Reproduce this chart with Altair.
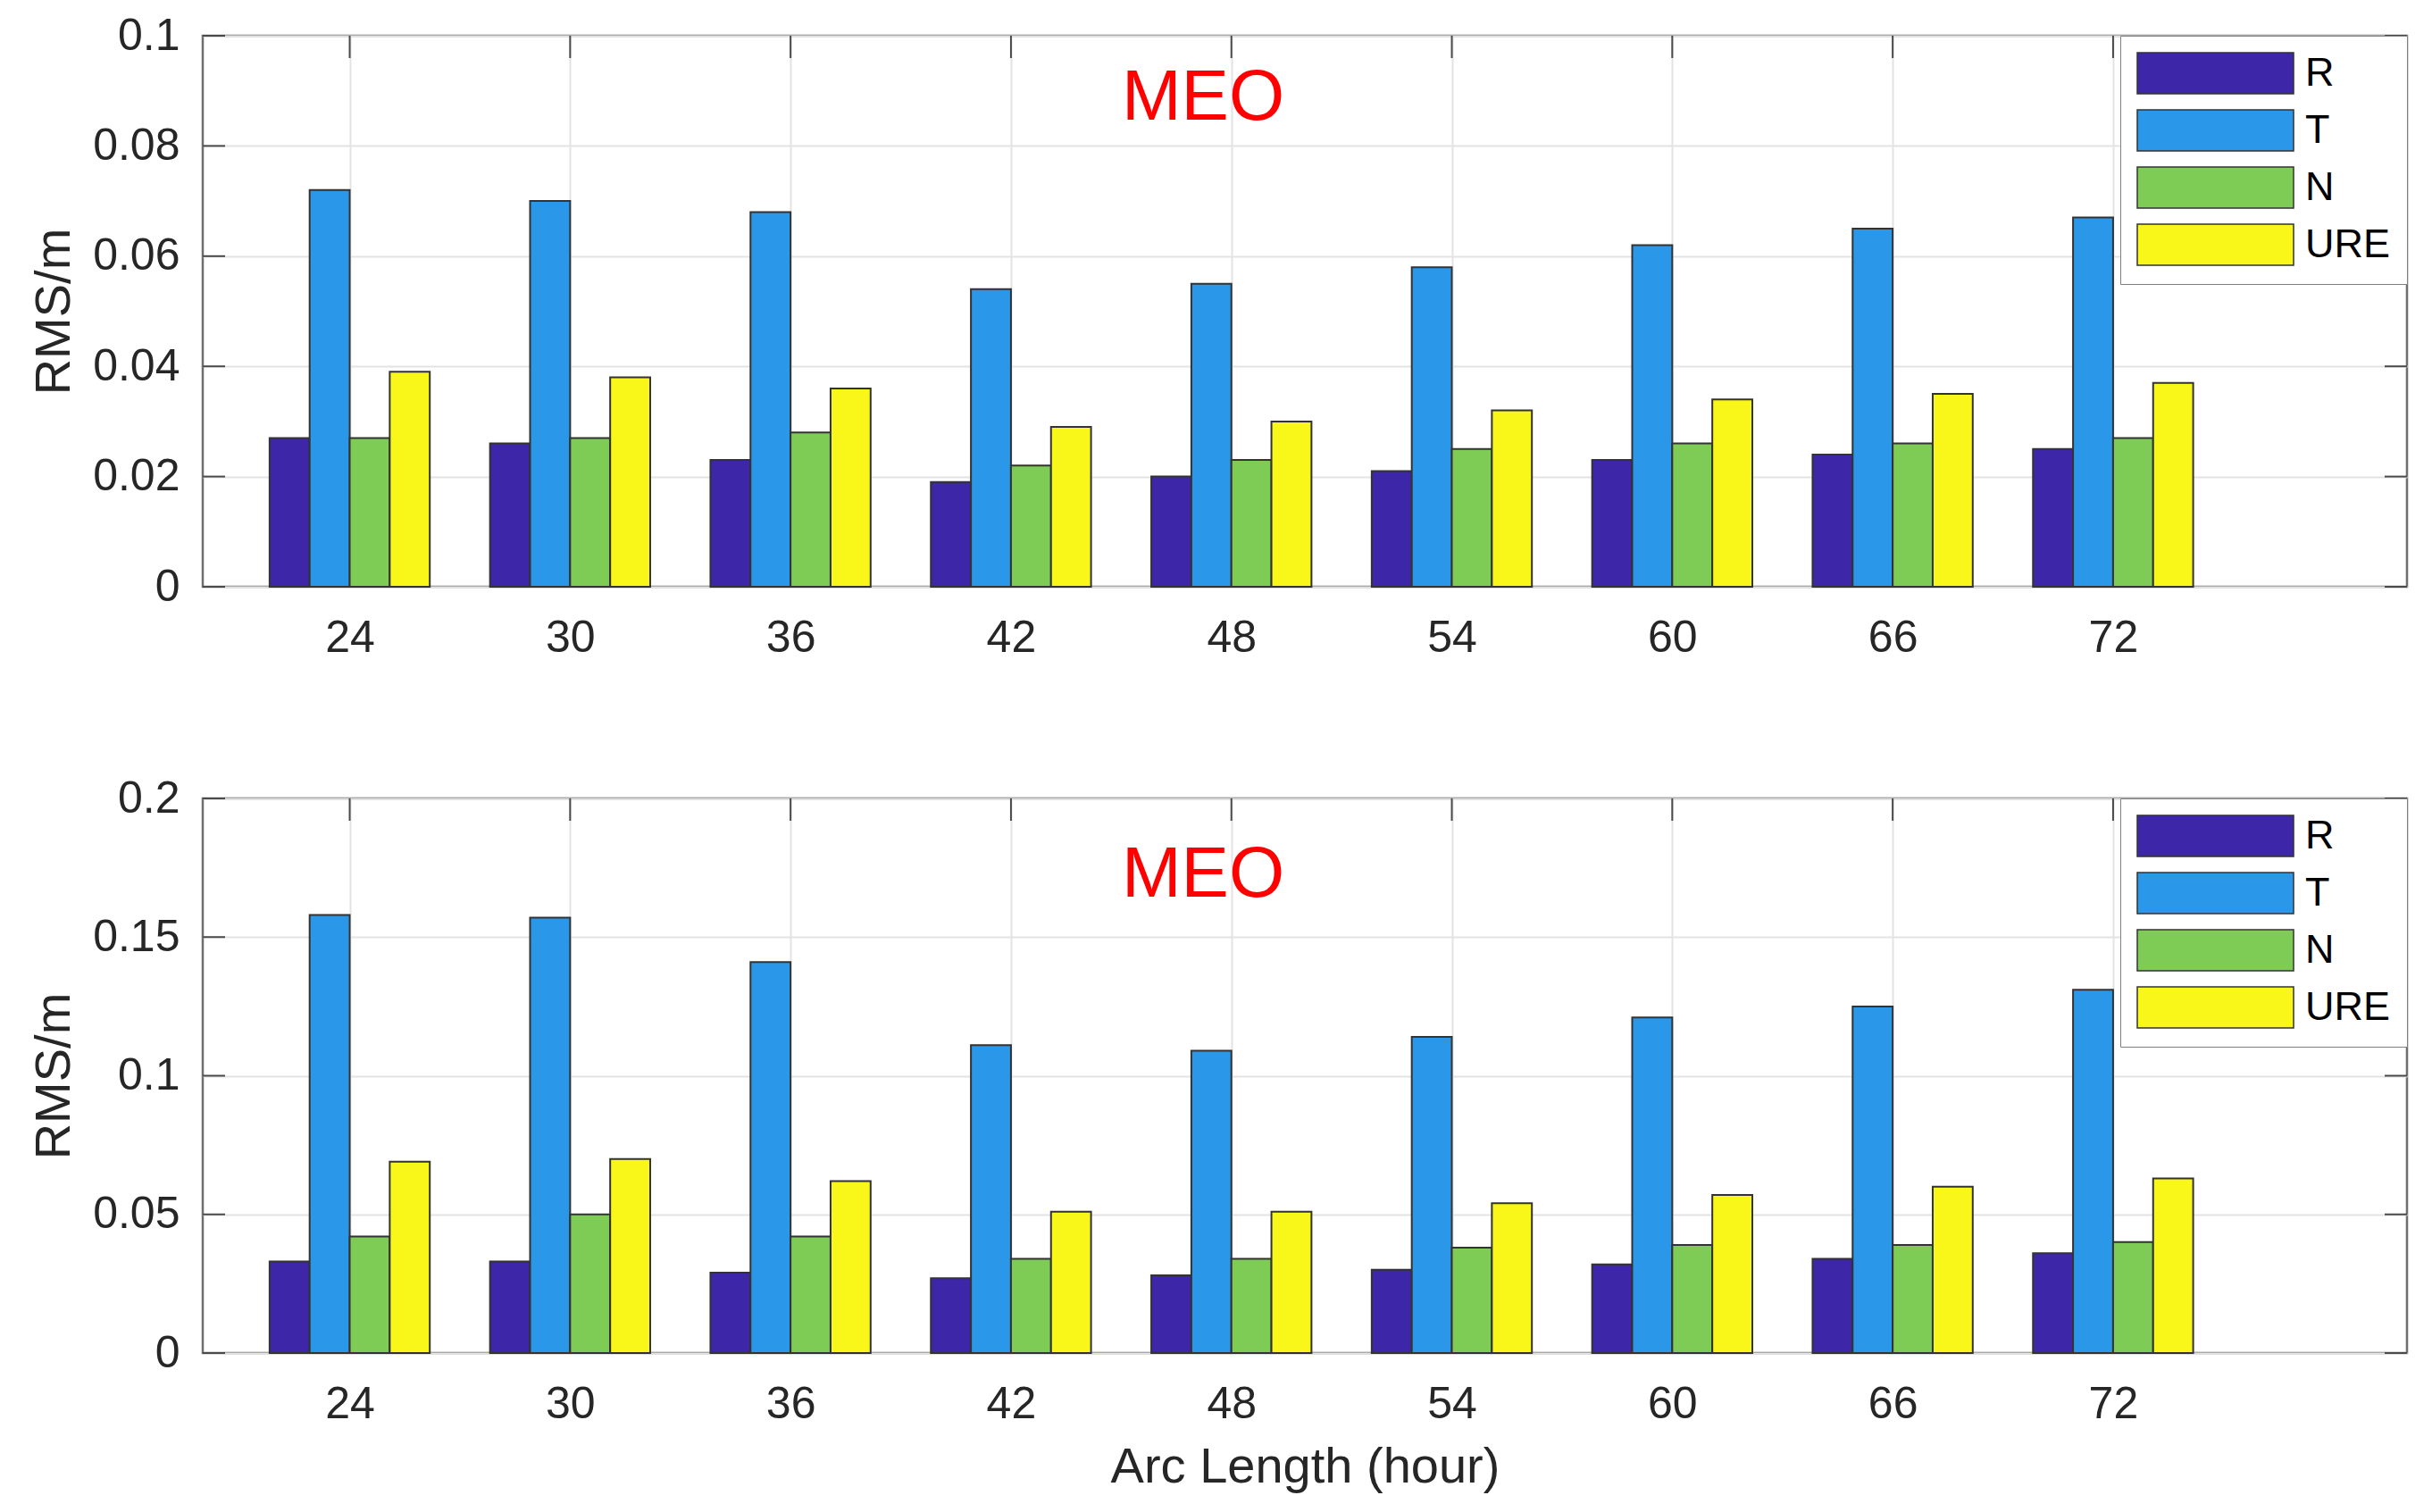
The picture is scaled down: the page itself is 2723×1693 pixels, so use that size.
import altair as alt
import pandas as pd

# ---------------- data ----------------
hours = [24, 30, 36, 42, 48, 54, 60, 66, 72]
components = ["R", "T", "N", "URE"]
colors = ["#3E26A8", "#2B97E8", "#7ECC55", "#F8F719"]

top_R = [0.027, 0.026, 0.023, 0.019, 0.020, 0.021, 0.023, 0.024, 0.025]
top_T = [0.072, 0.070, 0.068, 0.054, 0.055, 0.058, 0.062, 0.065, 0.067]
top_N = [0.027, 0.027, 0.028, 0.022, 0.023, 0.025, 0.026, 0.026, 0.027]
top_URE = [0.039, 0.038, 0.036, 0.029, 0.030, 0.032, 0.034, 0.035, 0.037]

bot_R = [0.033, 0.033, 0.029, 0.027, 0.028, 0.030, 0.032, 0.034, 0.036]
bot_T = [0.158, 0.157, 0.141, 0.111, 0.109, 0.114, 0.121, 0.125, 0.131]
bot_N = [0.042, 0.050, 0.042, 0.034, 0.034, 0.038, 0.039, 0.039, 0.040]
bot_URE = [0.069, 0.070, 0.062, 0.051, 0.051, 0.054, 0.057, 0.060, 0.063]

top_yticks = [0, 0.02, 0.04, 0.06, 0.08, 0.1]
bot_yticks = [0, 0.05, 0.1, 0.15, 0.2]

panel_label = "MEO"
top_label_x, top_label_y = [47.23], [0.0848]
bot_label_x, bot_label_y = [47.23], [0.1646]

y_title = "RMS/m"
x_title = "Arc Length (hour)"

# ---------------- layout / style ----------------
W = 2468
FONT = "Liberation Sans"
TXT = "#262626"
BAR_W = 1.09
TICK_LEN = 25


def long_df(series):
    rows = []
    for idx, (comp, vals) in enumerate(zip(components, series)):
        for h, v in zip(hours, vals):
            rows.append({"hour": h, "comp": comp, "idx": idx, "value": v})
    return pd.DataFrame(rows)


def panel(series, yticks, ymax, H, lx, ly, show_xtitle):
    xscale = alt.Scale(domain=[20, 80], nice=False, zero=False)
    yscale = alt.Scale(domain=[0, ymax], nice=False)
    xaxis = alt.Axis(values=hours, title=x_title if show_xtitle else None,
                     labelPadding=32, titlePadding=18, labelFlush=False)
    yaxis = alt.Axis(values=yticks, title=y_title, format="~g",
                     labelPadding=26, titlePadding=14)

    ydf = pd.DataFrame({"v": yticks})
    xdf = pd.DataFrame({"h": hours})

    left_ticks = alt.Chart(ydf).mark_rule(color="#4a4a4a", strokeWidth=2).encode(
        y=alt.Y("v:Q", scale=yscale, axis=yaxis),
        x=alt.value(0), x2=alt.value(TICK_LEN))
    right_ticks = alt.Chart(ydf).mark_rule(color="#4a4a4a", strokeWidth=2).encode(
        y=alt.Y("v:Q", scale=yscale, axis=yaxis),
        x=alt.value(W - TICK_LEN), x2=alt.value(W))
    top_ticks = alt.Chart(xdf).mark_rule(color="#4a4a4a", strokeWidth=2).encode(
        x=alt.X("h:Q", scale=xscale, axis=xaxis),
        y=alt.value(0), y2=alt.value(TICK_LEN))
    bottom_ticks = alt.Chart(xdf).mark_rule(color="#4a4a4a", strokeWidth=2).encode(
        x=alt.X("h:Q", scale=xscale, axis=xaxis),
        y=alt.value(H - TICK_LEN), y2=alt.value(H))

    legend = alt.Legend(
        title=None, orient="top-right", offset=0,
        symbolType="M-1,-1H6.61V1H-1Z", symbolSize=2116,
        symbolStrokeColor="#333333", symbolStrokeWidth=1.5, symbolOpacity=1,
        labelFont=FONT, labelFontSize=45, labelColor="#000000",
        labelOffset=141, rowPadding=12, padding=18,
        strokeColor="#808080", fillColor="white", labelLimit=400,
    )

    bars = alt.Chart(long_df(series)).transform_calculate(
        x1=f"datum.hour + (datum.idx - 2) * {BAR_W}",
        x2=f"datum.hour + (datum.idx - 1) * {BAR_W}",
    ).mark_rect(stroke="#333333", strokeWidth=2).encode(
        x=alt.X("x1:Q", scale=xscale, axis=xaxis),
        x2="x2:Q",
        y=alt.Y("value:Q", scale=yscale, axis=yaxis),
        y2=alt.datum(0),
        color=alt.Color("comp:N", scale=alt.Scale(domain=components, range=colors),
                        sort=components, legend=legend),
    )

    label = alt.Chart(pd.DataFrame({"x": lx, "y": ly, "t": [panel_label]})).mark_text(
        font=FONT, fontSize=80, color="#FF0000", align="center", baseline="alphabetic"
    ).encode(
        x=alt.X("x:Q", scale=xscale, axis=xaxis),
        y=alt.Y("y:Q", scale=yscale, axis=yaxis),
        text="t:N",
    )

    return alt.layer(left_ticks, right_ticks, top_ticks, bottom_ticks, bars, label).properties(
        width=W, height=H)


top = panel([top_R, top_T, top_N, top_URE], top_yticks, 0.1, 617,
            top_label_x, top_label_y, False)
bottom = panel([bot_R, bot_T, bot_N, bot_URE], bot_yticks, 0.2, 621,
               bot_label_x, bot_label_y, True)

chart = alt.vconcat(top, bottom, spacing=126).resolve_scale(
    color="independent").resolve_legend(color="independent").properties(
    padding={"left": 23, "top": 5, "right": 5, "bottom": 5},
    background="white",
).configure_view(
    stroke="#6e6e6e", strokeWidth=2.5
).configure_axis(
    grid=True, gridColor="#e3e3e3", gridWidth=2,
    domain=False, ticks=False,
    labelFont=FONT, labelFontSize=50, labelColor=TXT,
    titleFont=FONT, titleFontSize=56, titleColor=TXT, titleFontWeight="normal",
)

chart.save("out.html", embed_options={"renderer": "svg", "actions": False})
